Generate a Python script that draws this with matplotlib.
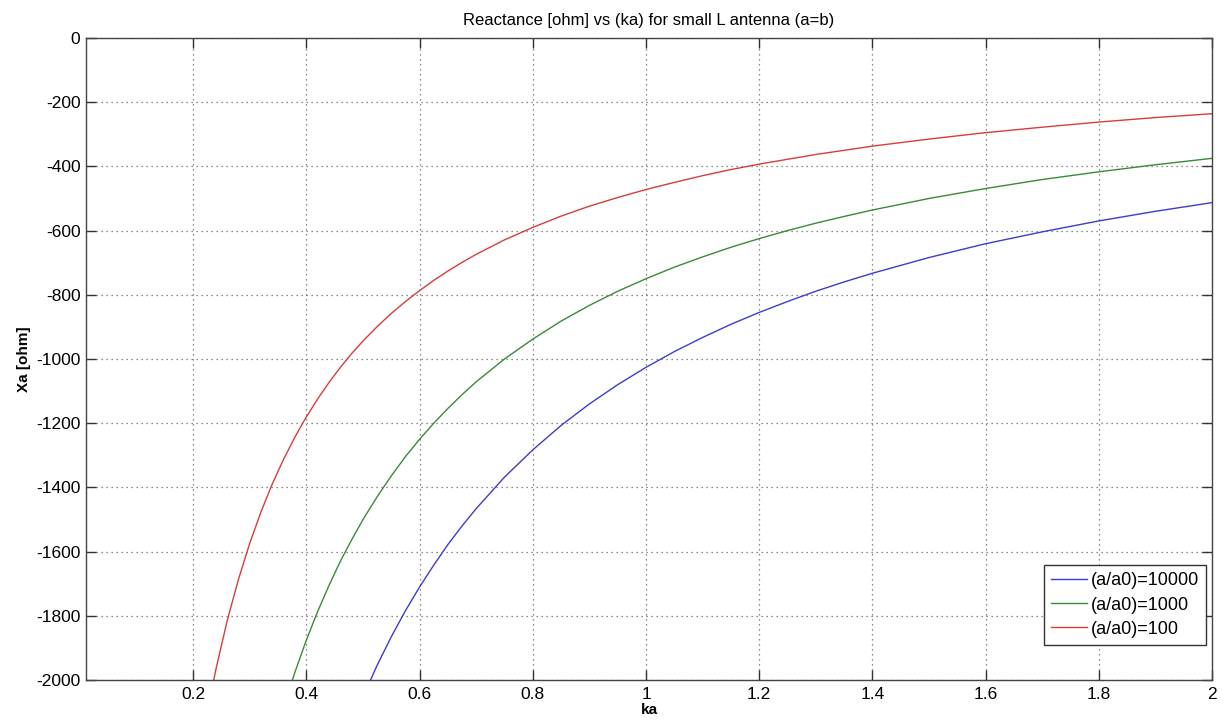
import numpy as np
import matplotlib
matplotlib.use("Agg")
import matplotlib.pyplot as plt
from matplotlib.ticker import FuncFormatter

plt.rcParams['font.family'] = ['Liberation Sans', 'DejaVu Sans']

nan = float('nan')
ka = [0.22, 0.24, 0.26, 0.28, 0.30, 0.32, 0.34, 0.36, 0.38, 0.40, 0.42, 0.44, 0.46,
      0.48, 0.50, 0.525, 0.55, 0.575, 0.60, 0.625, 0.65, 0.675, 0.70, 0.75, 0.80,
      0.85, 0.90, 0.95, 1.00, 1.05, 1.10, 1.15, 1.20, 1.25, 1.30, 1.35, 1.40, 1.50,
      1.60, 1.70, 1.80, 1.90, 2.00]
x_100 = [-2145, -1967, -1815, -1686, -1573, -1475, -1388, -1311, -1242, -1180, -1124,
         -1073, -1026, -983, -944, -899, -858, -821, -787, -755, -726, -699, -674,
         -629, -590, -555, -524, -497, -472, -450, -429, -410, -393, -378, -363,
         -350, -337, -315, -295, -278, -262, -248, -236]
x_1000 = [nan, nan, nan, nan, nan, nan, -2206, -2083, -1974, -1875, -1786, -1705,
          -1630, -1563, -1500, -1429, -1364, -1304, -1250, -1200, -1154, -1111, -1071,
          -1000, -938, -882, -833, -789, -750, -714, -682, -652, -625, -600, -577,
          -556, -536, -500, -469, -441, -417, -395, -375]
x_10000 = [nan, nan, nan, nan, nan, nan, nan, nan, nan, nan, nan, nan, nan,
           -2138, -2052, -1954, -1865, -1784, -1710, -1642, -1578, -1520, -1466,
           -1368, -1283, -1207, -1140, -1080, -1026, -977, -933, -892, -855, -821, -789,
           -760, -733, -684, -641, -604, -570, -540, -513]
labels = ['(a/a0)=10000', '(a/a0)=1000', '(a/a0)=100']
colors = ['#3c3cd0', '#3a8a3a', '#d83c3c']

fig = plt.figure(figsize=(12.24, 7.23), dpi=100)
ax = fig.add_axes([0.0703, 0.0595, 0.9199, 0.888])

for ys, lab, c in zip([x_10000, x_1000, x_100], labels, colors):
    ax.plot(ka, ys, color=c, lw=1.0, label=lab)

ax.set_xlim(0.0106, 2.0)
ax.set_ylim(-2000, 0)
ax.set_xticks([0.2, 0.4, 0.6, 0.8, 1.0, 1.2, 1.4, 1.6, 1.8, 2.0])
ax.set_yticks(np.arange(-2000, 1, 200))
ax.xaxis.set_major_formatter(FuncFormatter(lambda v, p: f'{v:g}'))
ax.yaxis.set_major_formatter(FuncFormatter(lambda v, p: f'{v:g}'))
ax.tick_params(direction='in', top=True, right=True, length=7, width=1.0,
               labelsize=12.5, color='#333333')
ax.tick_params(axis='y', pad=4)
ax.tick_params(axis='x', pad=5)
ax.grid(True, linestyle=(0, (1, 3)), color='#666666', lw=0.9)
for s in ax.spines.values():
    s.set_color('#444444')
    s.set_linewidth(1.0)

ax.set_title('Reactance [ohm] vs (ka) for small L antenna (a=b)', fontsize=12, pad=9)
ax.set_xlabel('ka', fontsize=11, fontweight='bold', labelpad=1)
ax.set_ylabel('Xa [ohm]', fontsize=11, fontweight='bold', labelpad=4)

leg = ax.legend(loc='lower right', bbox_to_anchor=(0.9947, 0.0545), borderaxespad=0,
                fontsize=13, handlelength=2.0, handletextpad=0.2,
                borderpad=0.4, labelspacing=0.4, fancybox=False, framealpha=1)
leg.get_frame().set_edgecolor('#333333')
leg.get_frame().set_linewidth(1.0)

fig.savefig('out.png', dpi=100)
